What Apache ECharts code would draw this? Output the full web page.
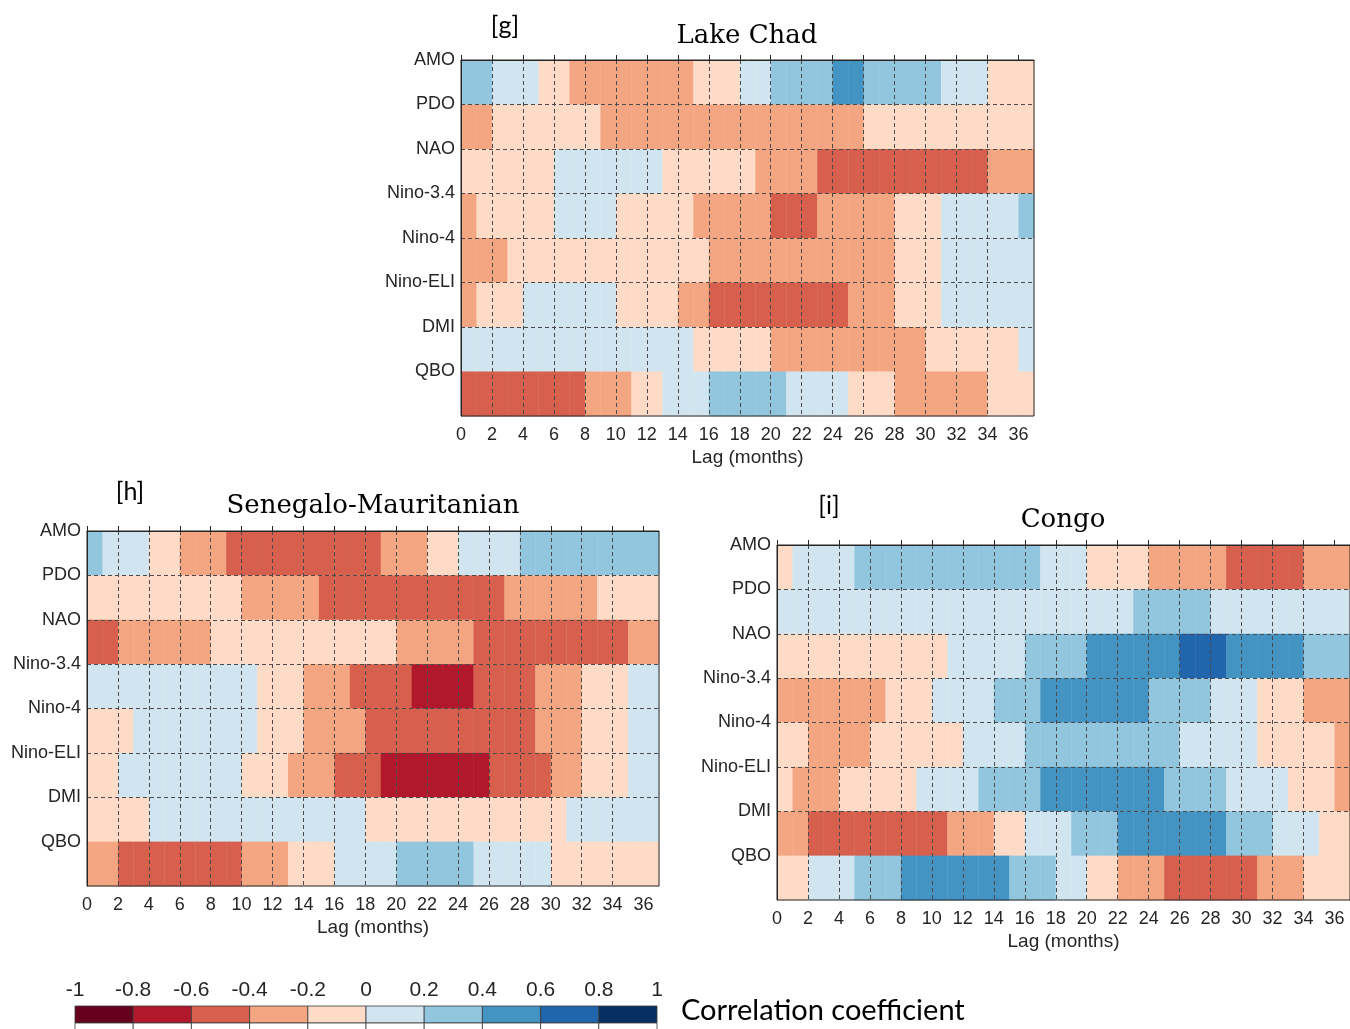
<!DOCTYPE html>
<html><head><meta charset="utf-8">
<script src="https://cdn.jsdelivr.net/npm/echarts@6/dist/echarts.min.js"></script>
<style>html,body{margin:0;padding:0;background:#fff}#c{width:1350px;height:1029px}</style>
</head><body><div id="c"></div>
<script>
// ---------- categories / ticks ----------
const indices = ['AMO','PDO','NAO','Nino-3.4','Nino-4','Nino-ELI','DMI','QBO'];
const lagCount = 37; // lags 0..36
const lagTicks = [0,2,4,6,8,10,12,14,16,18,20,22,24,26,28,30,32,34,36];
const rowTicks = [0,1,2,3,4,5,6,7];
const cbBreaks = [-1,-0.8,-0.6,-0.4,-0.2,0,0.2,0.4,0.6,0.8,1];
const cbColors = ['#67001f','#b2182b','#d6604d','#f4a582','#fddbc7','#d1e5f0','#92c5de','#4393c3','#2166ac','#053061'];

// ---------- [g] Lake Chad (one value per lag 0..36) ----------
const chadAMO = [0.3,0.3, 0.1,0.1,0.1, -0.1,-0.1, -0.3,-0.3,-0.3,-0.3,-0.3, -0.3,-0.3,-0.3,
  -0.1,-0.1,-0.1, 0.1,0.1, 0.3,0.3,0.3,0.3, 0.5,0.5, 0.3,0.3,0.3,0.3,0.3, 0.1,0.1,0.1, -0.1,-0.1,-0.1];
const chadPDO = [-0.3,-0.3, -0.1,-0.1,-0.1,-0.1,-0.1, -0.1,-0.1,
  -0.3,-0.3,-0.3,-0.3,-0.3, -0.3,-0.3,-0.3,-0.3,-0.3, -0.3,-0.3,-0.3,-0.3,-0.3, -0.3,-0.3,
  -0.1,-0.1,-0.1,-0.1,-0.1, -0.1,-0.1,-0.1,-0.1,-0.1, -0.1];
const chadNAO = [-0.1,-0.1,-0.1,-0.1,-0.1, -0.1, 0.1,0.1,0.1,0.1,0.1, 0.1,0.1,
  -0.1,-0.1,-0.1,-0.1,-0.1, -0.1, -0.3,-0.3,-0.3,-0.3,
  -0.5,-0.5,-0.5,-0.5,-0.5, -0.5,-0.5,-0.5,-0.5,-0.5, -0.5, -0.3,-0.3,-0.3];
const chadN34 = [-0.3, -0.1,-0.1,-0.1,-0.1,-0.1, 0.1,0.1,0.1,0.1, -0.1,-0.1,-0.1,-0.1,-0.1,
  -0.3,-0.3,-0.3,-0.3,-0.3, -0.5,-0.5,-0.5, -0.3,-0.3,-0.3,-0.3,-0.3, -0.1,-0.1,-0.1,
  0.1,0.1,0.1,0.1,0.1, 0.3];
const chadN4 = [-0.3,-0.3,-0.3,
  -0.1,-0.1,-0.1,-0.1,-0.1, -0.1,-0.1,-0.1,-0.1,-0.1, -0.1,-0.1,-0.1,
  -0.3,-0.3,-0.3,-0.3,-0.3, -0.3,-0.3,-0.3,-0.3,-0.3, -0.3,-0.3,
  -0.1,-0.1,-0.1, 0.1,0.1,0.1,0.1,0.1, 0.1];
const chadELI = [-0.3, -0.1,-0.1,-0.1, 0.1,0.1,0.1,0.1,0.1, 0.1, -0.1,-0.1,-0.1,-0.1, -0.3,-0.3,
  -0.5,-0.5,-0.5,-0.5,-0.5, -0.5,-0.5,-0.5,-0.5, -0.3,-0.3,-0.3, -0.1,-0.1,-0.1,
  0.1,0.1,0.1,0.1,0.1, 0.1];
const chadDMI = [0.1,0.1,0.1,0.1,0.1, 0.1,0.1,0.1,0.1,0.1, 0.1,0.1,0.1,0.1,0.1,
  -0.1,-0.1,-0.1,-0.1,-0.1, -0.3,-0.3,-0.3,-0.3,-0.3, -0.3,-0.3,-0.3,-0.3,-0.3,
  -0.1,-0.1,-0.1,-0.1,-0.1, -0.1, 0.1];
const chadQBO = [-0.5,-0.5,-0.5,-0.5,-0.5, -0.5,-0.5,-0.5, -0.3,-0.3,-0.3, -0.1,-0.1, 0.1,0.1,0.1,
  0.3,0.3,0.3,0.3,0.3, 0.1,0.1,0.1,0.1, -0.1,-0.1,-0.1, -0.3,-0.3,-0.3,-0.3,-0.3, -0.3,
  -0.1,-0.1,-0.1];

// ---------- [h] Senegalo-Mauritanian ----------
const senAMO = [0.3, 0.1,0.1,0.1, -0.1,-0.1, -0.3,-0.3,-0.3,
  -0.5,-0.5,-0.5,-0.5,-0.5, -0.5,-0.5,-0.5,-0.5,-0.5, -0.3,-0.3,-0.3, -0.1,-0.1,
  0.1,0.1,0.1,0.1, 0.3,0.3,0.3,0.3,0.3, 0.3,0.3,0.3,0.3];
const senPDO = [-0.1,-0.1,-0.1,-0.1,-0.1, -0.1,-0.1,-0.1,-0.1,-0.1, -0.3,-0.3,-0.3,-0.3,-0.3,
  -0.5,-0.5,-0.5,-0.5,-0.5, -0.5,-0.5,-0.5,-0.5,-0.5, -0.5,-0.5,
  -0.3,-0.3,-0.3,-0.3,-0.3, -0.3, -0.1,-0.1,-0.1,-0.1];
const senNAO = [-0.5,-0.5, -0.3,-0.3,-0.3,-0.3,-0.3, -0.3,
  -0.1,-0.1,-0.1,-0.1,-0.1, -0.1,-0.1,-0.1,-0.1,-0.1, -0.1,-0.1,
  -0.3,-0.3,-0.3,-0.3,-0.3, -0.5,-0.5,-0.5,-0.5,-0.5, -0.5,-0.5,-0.5,-0.5,-0.5, -0.3,-0.3];
const senN34 = [0.1,0.1,0.1,0.1,0.1, 0.1,0.1,0.1,0.1,0.1, 0.1, -0.1,-0.1,-0.1, -0.3,-0.3,-0.3,
  -0.5,-0.5,-0.5,-0.5, -0.7,-0.7,-0.7,-0.7, -0.5,-0.5,-0.5,-0.5, -0.3,-0.3,-0.3,
  -0.1,-0.1,-0.1, 0.1,0.1];
const senN4 = [-0.1,-0.1,-0.1, 0.1,0.1,0.1,0.1,0.1, 0.1,0.1,0.1, -0.1,-0.1,-0.1, -0.3,-0.3,-0.3,-0.3,
  -0.5,-0.5,-0.5,-0.5,-0.5, -0.5,-0.5,-0.5,-0.5,-0.5, -0.5, -0.3,-0.3,-0.3, -0.1,-0.1,-0.1, 0.1,0.1];
const senELI = [-0.1,-0.1, 0.1,0.1,0.1,0.1,0.1, 0.1,0.1,0.1, -0.1,-0.1,-0.1, -0.3,-0.3,-0.3,
  -0.5,-0.5,-0.5, -0.7,-0.7,-0.7,-0.7,-0.7, -0.7,-0.7, -0.5,-0.5,-0.5,-0.5, -0.3,-0.3,
  -0.1,-0.1,-0.1, 0.1,0.1];
const senDMI = [-0.1,-0.1,-0.1,-0.1, 0.1,0.1,0.1,0.1,0.1, 0.1,0.1,0.1,0.1,0.1, 0.1,0.1,0.1,0.1,
  -0.1,-0.1,-0.1,-0.1,-0.1, -0.1,-0.1,-0.1,-0.1,-0.1, -0.1,-0.1,-0.1, 0.1,0.1,0.1,0.1,0.1, 0.1];
const senQBO = [-0.3,-0.3, -0.5,-0.5,-0.5,-0.5,-0.5, -0.5,-0.5,-0.5, -0.3,-0.3,-0.3, -0.1,-0.1,-0.1,
  0.1,0.1,0.1,0.1, 0.3,0.3,0.3,0.3,0.3, 0.1,0.1,0.1,0.1,0.1,
  -0.1,-0.1,-0.1,-0.1,-0.1, -0.1,-0.1];

// ---------- [i] Congo ----------
const conAMO = [-0.1, 0.1,0.1,0.1,0.1, 0.3,0.3,0.3,0.3,0.3, 0.3,0.3,0.3,0.3,0.3, 0.3,0.3,
  0.1,0.1,0.1, -0.1,-0.1,-0.1,-0.1, -0.3,-0.3,-0.3,-0.3,-0.3, -0.5,-0.5,-0.5,-0.5,-0.5, -0.3,-0.3,-0.3];
const conPDO = [0.1,0.1,0.1,0.1,0.1, 0.1,0.1,0.1,0.1,0.1, 0.1,0.1,0.1,0.1,0.1, 0.1,0.1,0.1,0.1,0.1,
  0.1,0.1,0.1, 0.3,0.3,0.3,0.3,0.3, 0.1,0.1,0.1,0.1,0.1, 0.1,0.1,0.1,0.1];
const conNAO = [-0.1,-0.1,-0.1,-0.1,-0.1, -0.1,-0.1,-0.1,-0.1,-0.1, -0.1, 0.1,0.1,0.1,0.1,0.1,
  0.3,0.3,0.3,0.3, 0.5,0.5,0.5,0.5,0.5, 0.5, 0.7,0.7,0.7, 0.5,0.5,0.5,0.5,0.5, 0.3,0.3,0.3];
const conN34 = [-0.3,-0.3,-0.3,-0.3,-0.3, -0.3,-0.3, -0.1,-0.1,-0.1, 0.1,0.1,0.1,0.1, 0.3,0.3,0.3,
  0.5,0.5,0.5,0.5,0.5, 0.5,0.5, 0.3,0.3,0.3,0.3, 0.1,0.1,0.1, -0.1,-0.1,-0.1, -0.3,-0.3,-0.3];
const conN4 = [-0.1,-0.1, -0.3,-0.3,-0.3,-0.3, -0.1,-0.1,-0.1,-0.1,-0.1, -0.1, 0.1,0.1,0.1,0.1,
  0.3,0.3,0.3,0.3,0.3, 0.3,0.3,0.3,0.3,0.3, 0.1,0.1,0.1,0.1,0.1, -0.1,-0.1,-0.1,-0.1,-0.1, -0.3];
const conELI = [-0.1, -0.3,-0.3,-0.3, -0.1,-0.1,-0.1,-0.1,-0.1, 0.1,0.1,0.1,0.1, 0.3,0.3,0.3,0.3,
  0.5,0.5,0.5,0.5,0.5, 0.5,0.5,0.5, 0.3,0.3,0.3,0.3, 0.1,0.1,0.1,0.1, -0.1,-0.1,-0.1, -0.3];
const conDMI = [-0.3,-0.3, -0.5,-0.5,-0.5,-0.5,-0.5, -0.5,-0.5,-0.5,-0.5, -0.3,-0.3,-0.3, -0.1,-0.1,
  0.1,0.1,0.1, 0.3,0.3,0.3, 0.5,0.5,0.5,0.5,0.5, 0.5,0.5, 0.3,0.3,0.3, 0.1,0.1,0.1, -0.1,-0.1];
const conQBO = [-0.1,-0.1, 0.1,0.1,0.1, 0.3,0.3,0.3, 0.5,0.5,0.5,0.5,0.5, 0.5,0.5, 0.3,0.3,0.3,
  0.1,0.1, -0.1,-0.1, -0.3,-0.3,-0.3, -0.5,-0.5,-0.5,-0.5,-0.5, -0.5, -0.3,-0.3,-0.3, -0.1,-0.1,-0.1];

const chadRows = [chadAMO, chadPDO, chadNAO, chadN34, chadN4, chadELI, chadDMI, chadQBO];
const senRows  = [senAMO, senPDO, senNAO, senN34, senN4, senELI, senDMI, senQBO];
const conRows  = [conAMO, conPDO, conNAO, conN34, conN4, conELI, conDMI, conQBO];

[chadRows, senRows, conRows].forEach((rows, p) => rows.forEach((r, i) => {
  if (r.length !== lagCount) throw new Error('panel ' + p + ' row ' + i + ' has ' + r.length);
}));

function toCells(rows) {
  const out = [];
  rows.forEach((r, y) => r.forEach((v, x) => out.push([x, y, v])));
  return out;
}

// ---------- layout ----------
const FONT = '"Liberation Sans", Arial, Helvetica, sans-serif';
const INK = '#262626';
const panelGrids = [
  {left: 461, top: 60,  width: 573, height: 356},
  {left: 87,  top: 531, width: 572, height: 355},
  {left: 777, top: 545, width: 573, height: 355}
];
const cbGrid = {left: 75, top: 1006, width: 582, height: 34};

function cellRender(params, api) {
  const x = api.value(0), y = api.value(1);
  const a = api.coord([x, y]), b = api.coord([x + 1, y + 1]);
  const c = api.visual('color');
  return {
    type: 'rect',
    shape: {x: Math.min(a[0], b[0]), y: Math.min(a[1], b[1]), width: Math.abs(b[0] - a[0]) + 0.4, height: Math.abs(b[1] - a[1]) + 0.4},
    style: {fill: c}
  };
}
function cbRender(params, api) {
  const lo = api.value(0), hi = api.value(1);
  const a = api.coord([lo, 0]), b = api.coord([hi, 1]), d = api.coord([hi, 2]);
  const c = api.visual('color');
  return {
    type: 'group',
    children: [
      {type: 'rect', shape: {x: a[0], y: a[1], width: b[0] - a[0], height: b[1] - a[1]},
       style: {fill: c, stroke: '#3a3a3a', lineWidth: 0.8}},
      {type: 'rect', shape: {x: a[0], y: b[1], width: d[0] - a[0], height: d[1] - b[1]},
       style: {fill: '#fff', stroke: '#3a3a3a', lineWidth: 0.8}}
    ]
  };
}

const grids = panelGrids.map(g => Object.assign({show: true, z: 10, borderColor: INK, borderWidth: 1,
  backgroundColor: 'rgba(0,0,0,0)', outerBoundsMode: 'none', containLabel: false}, g));
grids.push(Object.assign({show: false, outerBoundsMode: 'none', containLabel: false}, cbGrid));

const dash = {show: true, showMinLine: false, showMaxLine: false, lineStyle: {color: '#4a4a4a', width: 1, type: [4, 3]}};

const xAxes = panelGrids.map((g, i) => ({
  gridIndex: i, type: 'value', min: 0, max: lagCount, interval: 2, z: 10,
  axisLine: {show: true, lineStyle: {color: INK, width: 1}},
  axisTick: {show: true, inside: true, length: 5, customValues: lagTicks, lineStyle: {color: INK, width: 1}},
  axisLabel: {show: true, fontSize: 18, color: INK, fontFamily: FONT, margin: 10, customValues: lagTicks,
    hideOverlap: false, formatter: v => String(v)},
  splitLine: dash,
  name: 'Lag (months)', nameLocation: 'middle', nameGap: 32,
  nameTextStyle: {fontSize: 19, color: INK, fontFamily: FONT}
}));
xAxes.push({
  gridIndex: 3, type: 'value', min: -1, max: 1, interval: 0.2, position: 'top',
  axisLine: {show: false}, axisTick: {show: false}, splitLine: {show: false},
  axisLabel: {show: true, fontSize: 21, color: INK, fontFamily: FONT, margin: 5,
    customValues: cbBreaks, formatter: v => String(Math.round(v * 10) / 10)}
});

const yAxes = panelGrids.map((g, i) => ({
  gridIndex: i, type: 'value', min: 0, max: 8, interval: 1, inverse: true, z: 10,
  axisLine: {show: true, lineStyle: {color: INK, width: 1}},
  axisTick: {show: false, customValues: rowTicks},
  axisLabel: {show: true, fontSize: 18, color: INK, fontFamily: FONT, margin: 6, customValues: rowTicks,
    formatter: v => indices[v] || ''},
  splitLine: dash
}));
yAxes.push({gridIndex: 3, type: 'value', min: 0, max: 2, inverse: true, show: false});

const series = [chadRows, senRows, conRows].map((rows, i) => ({
  type: 'custom', xAxisIndex: i, yAxisIndex: i, z: 2,
  renderItem: cellRender, encode: {x: 0, y: 1}, data: toCells(rows), animation: false
}));
series.push({
  type: 'custom', xAxisIndex: 3, yAxisIndex: 3, z: 2, renderItem: cbRender,
  encode: {x: [0, 1]}, animation: false,
  data: cbColors.map((c, i) => [cbBreaks[i], cbBreaks[i + 1], (cbBreaks[i] + cbBreaks[i + 1]) / 2])
});

const SERIF = '"DejaVu Serif", "Liberation Serif", serif';
const CAL = 'Lato, "Open Sans", sans-serif';
function txt(x, y, text, font) {
  return {type: 'text', x: x, y: y, z: 20,
    style: {text: text, font: font, fill: '#000', align: 'center', verticalAlign: 'middle'}};
}

const option = {
  animation: false,
  backgroundColor: '#fff',
  grid: grids,
  xAxis: xAxes,
  yAxis: yAxes,
  visualMap: {
    type: 'piecewise', show: false, dimension: 2, seriesIndex: [0, 1, 2, 3],
    pieces: cbColors.map((c, i) => ({gte: cbBreaks[i], lt: cbBreaks[i + 1], color: c}))
  },
  series: series,
  graphic: [
    txt(747, 36, 'Lake Chad', '26px ' + SERIF),
    txt(505, 26, '[g]', '25px ' + CAL),
    txt(373, 506, 'Senegalo-Mauritanian', '26px ' + SERIF),
    txt(130, 492, '[h]', '25px ' + CAL),
    txt(1063, 520, 'Congo', '26px ' + SERIF),
    txt(829, 506, '[i]', '25px ' + CAL),
    {type: 'text', x: 681, y: 1011, z: 20,
     style: {text: 'Correlation coefficient', font: '29px ' + CAL, fill: '#000', align: 'left', verticalAlign: 'middle'}}
  ]
};

const chart = echarts.init(document.getElementById('c'), null, {renderer: 'canvas'});
chart.setOption(option);
</script>
</body></html>
